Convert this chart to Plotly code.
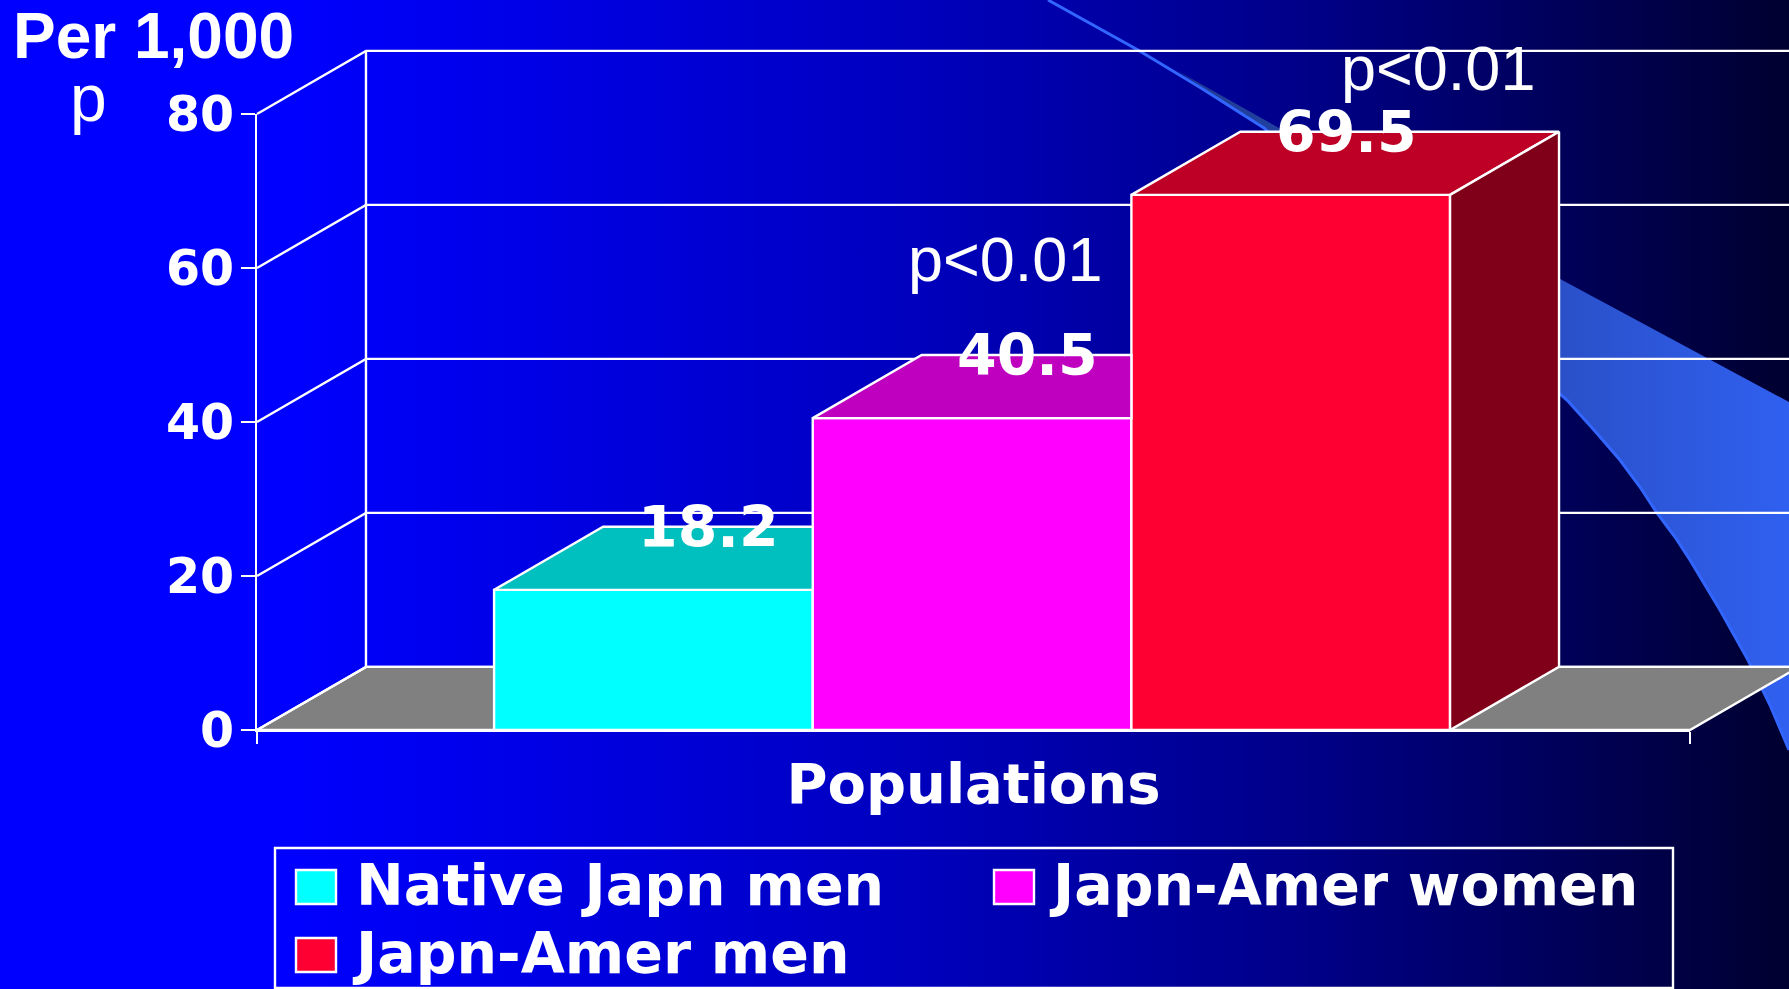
import plotly.graph_objects as go

# Data
categories = ["Native Japn men", "Japn-Amer women", "Japn-Amer men"]
values = [18.2, 40.5, 69.5]
front_colors = ["#00FFFF", "#FF00FF", "#FF0033"]
top_colors = ["#00BFBF", "#BF00BF", "#BF0026"]
side_color = "#800019"
floor_color = "#808080"
y_ticks = [0, 20, 40, 60, 80]

# Page size and chart frame, in pixels
PAGE_W, PAGE_H = 1789, 989
FRAME_L, FRAME_R, FRAME_T, FRAME_B = 257, 1690, 114, 730

# Data-space extents of the front plane and the depth of the 3D box
X_MIN, X_MAX = -1.244, 3.253
Y_MAX = 80
DEPTH_X, DEPTH_Y = 0.342, 8.2
BAR_W = 1.0

# Slide background stops (position along the page, colour)
bg_stops = [[0, "#0000FF"], [0.16, "#0000FF"], [0.5, "#0000C0"], [0.73, "#000088"], [1, "#000030"]]

# Decorative swoosh behind the chart, page pixels
swoosh_lower_x = [1048, 1138, 1201, 1264, 1400, 1567, 1594, 1620, 1640, 1657, 1675, 1690, 1720, 1748, 1770, 1789]
swoosh_lower_y = [0, 50, 88, 128, 255, 400, 430, 460, 487, 513, 537, 560, 610, 660, 705, 750]
swoosh_upper_x = [1789, 1562, 1279, 1176]
swoosh_upper_y = [402, 280, 128, 70]

WHITE = "#FFFFFF"
LINE = dict(color=WHITE, width=2.4)
SANS_BOLD = "DejaVu Sans"
ARIAL = "Liberation Sans"

# The back walls run past the front frame, so their axes span the whole page
# on the same scale as the chart axes.
x_per_px = (X_MAX - X_MIN) / (FRAME_R - FRAME_L)
y_per_px = Y_MAX / (FRAME_B - FRAME_T)
wall_x_range = [X_MIN - FRAME_L * x_per_px, X_MAX + (PAGE_W - FRAME_R) * x_per_px]
wall_y_range = [-(PAGE_H - FRAME_B) * y_per_px, Y_MAX + FRAME_T * y_per_px]
frame_x_domain = [FRAME_L / PAGE_W, FRAME_R / PAGE_W]
frame_y_domain = [1 - FRAME_B / PAGE_H, 1 - FRAME_T / PAGE_H]

fig = go.Figure()

# Layer 1: page-sized axes with background and swoosh
fig.add_trace(go.Scatter(
    x=[0, PAGE_W, PAGE_W, 0, 0], y=[0, 0, PAGE_H, PAGE_H, 0],
    mode="none", fill="toself", fillcolor="#0000C0",
    fillgradient=dict(type="horizontal", colorscale=bg_stops),
    xaxis="x", yaxis="y", hoverinfo="skip", showlegend=False,
))
body_x = swoosh_lower_x[3:] + swoosh_upper_x
body_y = swoosh_lower_y[3:] + swoosh_upper_y
fig.add_trace(go.Scatter(
    x=body_x + body_x[:1], y=body_y + body_y[:1],
    mode="none", fill="toself", fillcolor="#2D55D8",
    fillgradient=dict(type="horizontal",
                      colorscale=[[0, "#1E3A90"], [0.62, "#2A50C8"], [1, "#3060F0"]]),
    xaxis="x", yaxis="y", hoverinfo="skip", showlegend=False,
))
fig.add_trace(go.Scatter(
    x=swoosh_lower_x, y=swoosh_lower_y, mode="lines",
    line=dict(color="#3366FF", width=3),
    xaxis="x", yaxis="y", hoverinfo="skip", showlegend=False,
))

# Layer 2: floor and back walls of the 3D box
left_back = X_MIN + DEPTH_X
right_back = X_MAX + DEPTH_X
fig.add_trace(go.Scatter(
    x=[X_MIN, left_back, right_back, X_MAX, X_MIN],
    y=[0, DEPTH_Y, DEPTH_Y, 0, 0],
    mode="lines", fill="toself", fillcolor=floor_color, line=LINE,
    xaxis="x2", yaxis="y2", hoverinfo="skip", showlegend=False,
))
wall_x, wall_y = [], []
for t in y_ticks:
    wall_x += [X_MIN, left_back, right_back, None]
    wall_y += [t, t + DEPTH_Y, t + DEPTH_Y, None]
wall_x += [left_back, left_back, None]
wall_y += [DEPTH_Y, Y_MAX + DEPTH_Y, None]
fig.add_trace(go.Scatter(
    x=wall_x, y=wall_y, mode="lines", line=LINE,
    xaxis="x2", yaxis="y2", hoverinfo="skip", showlegend=False,
))

# Layer 3: the bars, their top faces and the exposed side face
positions = list(range(len(values)))
fig.add_trace(go.Bar(
    x=positions, y=values, width=BAR_W,
    marker=dict(color=front_colors, line=LINE),
    xaxis="x3", yaxis="y3", hoverinfo="skip", showlegend=False,
))
for pos, val, top in zip(positions, values, top_colors):
    left, right = pos - BAR_W / 2, pos + BAR_W / 2
    last = pos == positions[-1]
    # A following bar hides the rest of this top face
    back_right = right + DEPTH_X if last else right
    fig.add_trace(go.Scatter(
        x=[left, left + DEPTH_X, back_right, right, left],
        y=[val, val + DEPTH_Y, val + DEPTH_Y, val, val],
        mode="lines", fill="toself", fillcolor=top, line=LINE,
        xaxis="x3", yaxis="y3", hoverinfo="skip", showlegend=False,
    ))
    if last:
        fig.add_trace(go.Scatter(
            x=[right, right + DEPTH_X, right + DEPTH_X, right, right],
            y=[val, val + DEPTH_Y, DEPTH_Y, 0, val],
            mode="lines", fill="toself", fillcolor=side_color, line=LINE,
            xaxis="x3", yaxis="y3", hoverinfo="skip", showlegend=False,
        ))

annotations = []
# Value labels sit on the rear edge of each top face
for pos, val in zip(positions, values):
    annotations.append(dict(
        x=pos + DEPTH_X / 2 + 0.003, y=val + DEPTH_Y, xref="x3", yref="y3",
        text=f"{val}", showarrow=False, xanchor="center", yanchor="middle",
        font=dict(family=SANS_BOLD, size=57, color=WHITE, weight="bold"),
    ))


def page_text(x, y, text, family, size, bold=False, anchor="left"):
    annotations.append(dict(
        x=x, y=y, xref="x", yref="y", text=text, showarrow=False,
        xanchor=anchor, yanchor="middle",
        font=dict(family=family, size=size, color=WHITE, weight="bold" if bold else "normal"),
    ))


page_text(11, 36, "Per 1,000", ARIAL, 64, bold=True)
page_text(88, 98, "p", ARIAL, 66, anchor="center")
page_text(906, 259, "p&lt;0.01", ARIAL, 63)
page_text(1339, 68, "p&lt;0.01", ARIAL, 63)

# Legend panel
shapes = [dict(type="rect", xref="x", yref="y", x0=275, x1=1673, y0=848, y1=988,
               line=LINE, fillcolor="rgba(0,0,0,0)")]
legend_swatches = [(296, 887), (994, 887), (296, 955)]
legend_text_x = [354, 1047, 350]
for name, color, (sx, sy), tx in zip(categories, front_colors, legend_swatches, legend_text_x):
    shapes.append(dict(type="rect", xref="x", yref="y", x0=sx, x1=sx + 40,
                       y0=sy - 17, y1=sy + 17, line=LINE, fillcolor=color))
    page_text(tx, sy - 2, name, SANS_BOLD, 57, bold=True)

fig.update_layout(
    width=PAGE_W, height=PAGE_H,
    margin=dict(l=0, r=0, t=0, b=0, pad=0),
    paper_bgcolor="#0000C0", plot_bgcolor="rgba(0,0,0,0)",
    showlegend=False, barmode="overlay",
    annotations=annotations, shapes=shapes,
    xaxis=dict(domain=[0, 1], range=[0, PAGE_W], visible=False),
    yaxis=dict(domain=[0, 1], range=[PAGE_H, 0], visible=False),
    xaxis2=dict(domain=[0, 1], range=wall_x_range, anchor="y2", visible=False),
    yaxis2=dict(domain=[0, 1], range=wall_y_range, anchor="x2", visible=False),
    xaxis3=dict(
        domain=frame_x_domain, range=[X_MIN, X_MAX], anchor="y3", automargin=False,
        showgrid=False, zeroline=False, showline=True, linecolor=WHITE, linewidth=2,
        tickmode="array", tickvals=[X_MIN, X_MAX], ticks="outside", ticklen=12,
        tickcolor=WHITE, tickwidth=2, showticklabels=False,
        title=dict(text="Populations", standoff=21,
                   font=dict(family=SANS_BOLD, size=56, color=WHITE, weight="bold")),
    ),
    yaxis3=dict(
        domain=frame_y_domain, range=[0, Y_MAX], anchor="x3", automargin=False,
        showgrid=False, zeroline=False, showline=True, linecolor=WHITE, linewidth=2,
        tickmode="array", tickvals=y_ticks, ticks="outside", ticklen=14,
        tickcolor=WHITE, tickwidth=2, ticklabelstandoff=-3,
        tickfont=dict(family=SANS_BOLD, size=49, color=WHITE, weight="bold"),
    ),
)

fig.write_html("out.html")
